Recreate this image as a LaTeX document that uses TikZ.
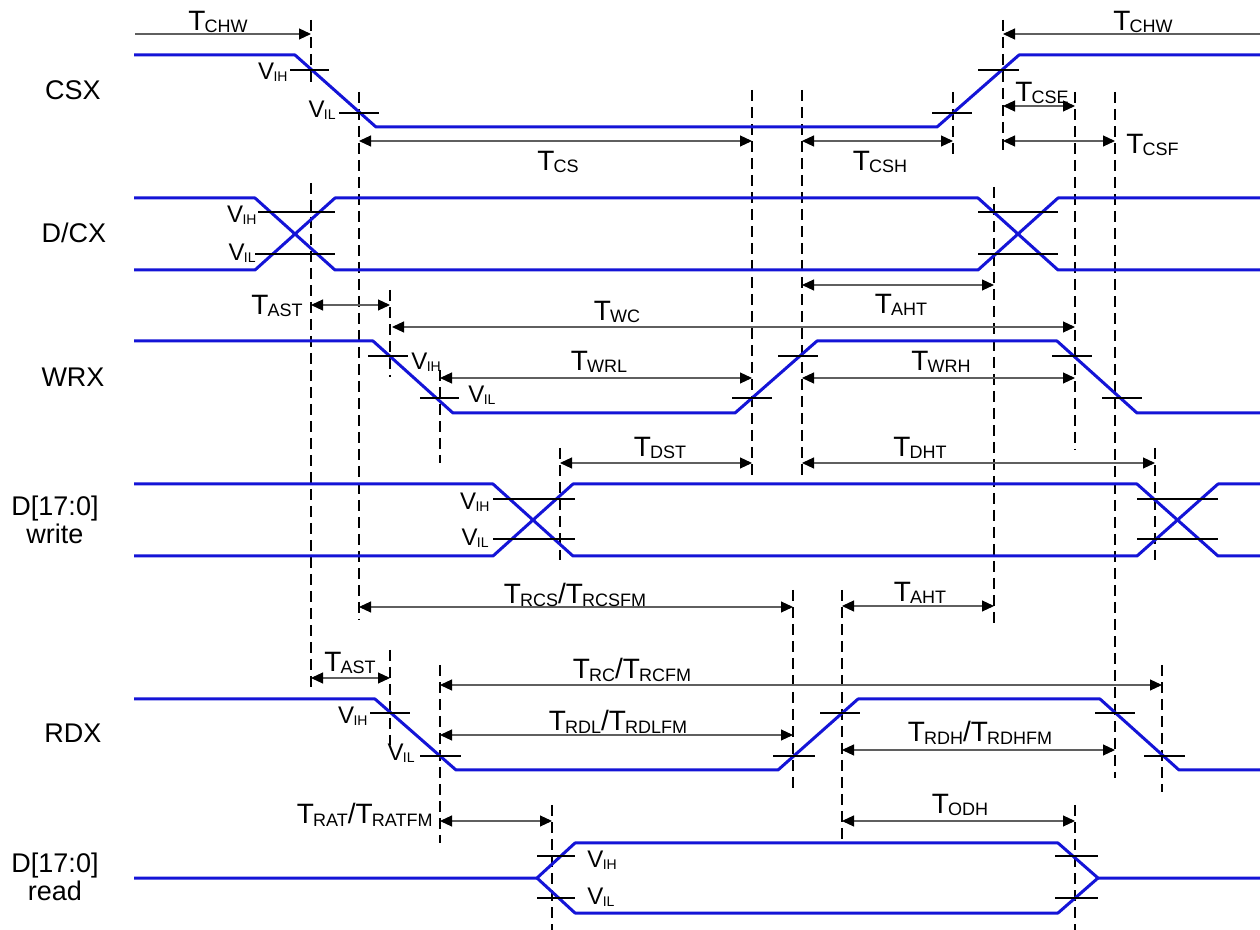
\documentclass[tikz,border=0pt]{standalone}
\usepackage{fontspec}
\setmainfont{Liberation Sans}
\usetikzlibrary{arrows.meta}
\definecolor{sigblue}{RGB}{20,20,215}
\definecolor{dimgray}{RGB}{95,95,95}
\newcommand{\Tlab}[1]{T\kern-0.4pt\raisebox{-1.3pt}{\fontsize{9}{9}\selectfont #1}}
\newcommand{\Vlab}[1]{V\kern-0.3pt\raisebox{-1pt}{\fontsize{7}{7}\selectfont #1}}
\begin{document}
\begin{tikzpicture}[x=0.5pt,y=-0.5pt,
  sig/.style={draw=sigblue,line width=1.5pt,line join=round},
  thr/.style={draw=black,line width=0.9pt},
  vdash/.style={draw=black,line width=0.9pt,dash pattern=on 5.5pt off 3pt},
  dim/.style={draw=dimgray,line width=0.55pt},
  tip/.tip={Triangle[length=6pt,width=5.5pt,color=black,fill=black]},
  dd/.style={dim,tip-tip},
  dr/.style={dim,-tip},
  tl/.style={inner sep=0pt,font=\fontsize{14}{14}\selectfont},
  vl/.style={inner sep=0pt,font=\fontsize{12}{12}\selectfont},
  sname/.style={inner sep=0pt,font=\fontsize{13.5}{14}\selectfont,align=center}]
\fill[white] (0,0) rectangle (1260,930);
\useasboundingbox (0,0) rectangle (1260,930);

% ---- signal names
\node[sname] (nCSX) at (73,90) {CSX};
\node[sname] (nDCX) at (74,233) {D/CX};
\node[sname] (nWRX) at (73,377) {WRX};
\node[sname] (nDW) at (55,520) {D[17:0]\\write};
\node[sname] (nRDX) at (73,733) {RDX};
\node[sname] (nDR) at (55,877) {D[17:0]\\read};

% ---- dashed reference lines
\foreach \x/\a/\b in {311/20/85, 311/183/687, 359/92/620, 390/290/377, 390/650/745,
  440/370/463, 440/665/843, 560/448/560, 552/805/930, 752/90/480, 802/90/480,
  793/590/792, 842/590/840, 953/92/155, 994/187/627, 1003/20/155, 1075/92/450,
  1075/805/930, 1115/92/778, 1155/448/560, 1162/665/792}
  \draw[vdash] (\x,\a) -- (\x,\b);

% ---- signals
\draw[sig] (134,55) -- (295,55) -- (376,127) -- (937,127) -- (1019,55) -- (1260,55);
\draw[sig] (134,198) -- (255,198) -- (335,270) -- (978,270) -- (1058,198) -- (1260,198);
\draw[sig] (134,270) -- (255,270) -- (335,198) -- (978,198) -- (1058,270) -- (1260,270);
\draw[sig] (134,341) -- (373,341) -- (453,413) -- (735,413) -- (817,341) -- (1057,341) -- (1137,413) -- (1260,413);
\draw[sig] (134,484) -- (493,484) -- (573,556) -- (1137,556) -- (1218,484) -- (1260,484);
\draw[sig] (134,556) -- (493,556) -- (573,484) -- (1137,484) -- (1218,556) -- (1260,556);
\draw[sig] (134,699) -- (375,699) -- (456,770) -- (778,770) -- (858,699) -- (1100,699) -- (1179,770) -- (1260,770);
\draw[sig] (134,878) -- (537,878) -- (575,843) -- (1058,843) -- (1098,878) -- (1260,878);
\draw[sig] (537,878) -- (575,913) -- (1058,913) -- (1098,878);

% ---- threshold ticks
\foreach \a/\b/\y in {290/329/70, 339/379/113, 932/972/113, 978/1019/70,
  258/335/212, 255/335/254, 978/1058/212, 978/1058/254,
  368/408/356, 420/459/398, 732/772/398, 778/818/356, 1052/1092/356, 1102/1142/398,
  493/575/499, 493/575/539, 1137/1218/499, 1137/1218/539,
  370/410/713, 420/461/756, 773/815/756, 820/860/713, 1095/1135/713, 1144/1185/756,
  537/575/856, 537/575/898, 1055/1098/856, 1055/1098/898}
  \draw[thr] (\a,\y) -- (\b,\y);

% ---- V labels
\node[vl,anchor=east] (v1) at (288,72) {\Vlab{IH}};
\node[vl,anchor=east] (v2) at (336,110) {\Vlab{IL}};
\node[vl,anchor=east] (v3) at (257,215) {\Vlab{IH}};
\node[vl,anchor=east] (v4) at (256,253) {\Vlab{IL}};
\node[vl,anchor=west] (v5) at (411,362) {\Vlab{IH}};
\node[vl,anchor=west] (v6) at (468,395) {\Vlab{IL}};
\node[vl,anchor=east] (v7) at (490,502) {\Vlab{IH}};
\node[vl,anchor=east] (v8) at (489,538) {\Vlab{IL}};
\node[vl,anchor=east] (v9) at (368,716) {\Vlab{IH}};
\node[vl,anchor=east] (v10) at (415,753) {\Vlab{IL}};
\node[vl,anchor=west] (v11) at (587,860) {\Vlab{IH}};
\node[vl,anchor=west] (v12) at (587,897) {\Vlab{IL}};

% ---- dimension arrows
\draw[dr] (135,34) -- (311,34);
\draw[dr] (1260,34) -- (1003,34);
\draw[dd] (359,141) -- (752,141);
\draw[dd] (802,141) -- (953,141);
\draw[dd] (1003,106) -- (1075,106);
\draw[dd] (1003,141) -- (1115,141);
\draw[dd] (311,305) -- (390,305);
\draw[dd] (802,285) -- (994,285);
\draw[dd] (392,327) -- (1075,327);
\draw[dd] (440,378) -- (752,378);
\draw[dd] (802,378) -- (1075,378);
\draw[dd] (560,463) -- (752,463);
\draw[dd] (802,463) -- (1155,463);
\draw[dd] (359,607) -- (793,607);
\draw[dd] (842,606) -- (994,606);
\draw[dd] (311,678) -- (390,678);
\draw[dd] (440,685) -- (1162,685);
\draw[dd] (440,735) -- (793,735);
\draw[dd] (842,750) -- (1115,750);
\draw[dd] (440,821) -- (552,821);
\draw[dd] (842,821) -- (1075,821);

% ---- T labels
\node[tl] (tchw1) at (218,22) {\Tlab{CHW}};
\node[tl] (tchw2) at (1143,22) {\Tlab{CHW}};
\node[tl] (tcs) at (558,162) {\Tlab{CS}};
\node[tl] (tcsh) at (880,162) {\Tlab{CSH}};
\node[tl] (tcse) at (1042,93) {\Tlab{CSE}};
\node[tl,anchor=west] (tcsf) at (1126,145) {\Tlab{CSF}};
\node[tl,anchor=east] (tast1) at (303,306) {\Tlab{AST}};
\node[tl] (taht1) at (901,305) {\Tlab{AHT}};
\node[tl] (twc) at (617,312) {\Tlab{WC}};
\node[tl] (twrl) at (599,362) {\Tlab{WRL}};
\node[tl] (twrh) at (941,362) {\Tlab{WRH}};
\node[tl] (tdst) at (660,448) {\Tlab{DST}};
\node[tl] (tdht) at (920,448) {\Tlab{DHT}};
\node[tl] (trcs) at (575,595) {\Tlab{RCS}/\Tlab{RCSFM}};
\node[tl] (taht2) at (920,593) {\Tlab{AHT}};
\node[tl] (tast2) at (350,663) {\Tlab{AST}};
\node[tl] (trc) at (632,670) {\Tlab{RC}/\Tlab{RCFM}};
\node[tl] (trdl) at (618,722) {\Tlab{RDL}/\Tlab{RDLFM}};
\node[tl] (trdh) at (980,733) {\Tlab{RDH}/\Tlab{RDHFM}};
\node[tl] (todh) at (960,805) {\Tlab{ODH}};
\node[tl,anchor=east] (trat) at (433,815) {\Tlab{RAT}/\Tlab{RATFM}};
\end{tikzpicture}
\end{document}
